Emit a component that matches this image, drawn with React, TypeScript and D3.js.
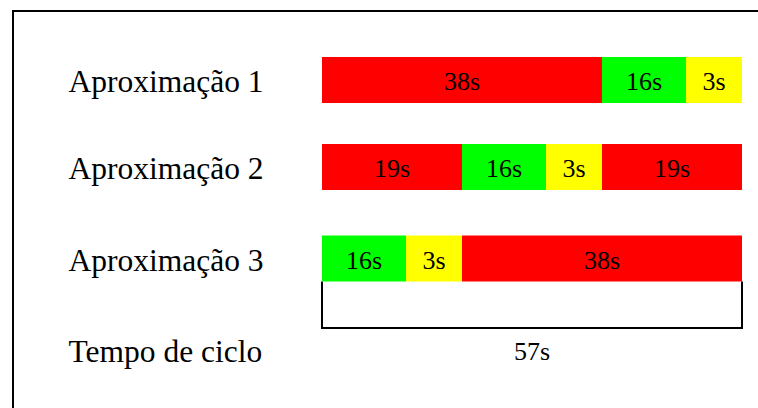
import React from "react";
import * as d3 from "d3";

// ---- data ----
const rowLabels = ["Aproximação 1", "Aproximação 2", "Aproximação 3", "Tempo de ciclo"];

const approach1Phases = ["red", "green", "yellow"];
const approach1Seconds = [38, 16, 3];
const approach1Units = [10, 3, 2];

const approach2Phases = ["red", "green", "yellow", "red"];
const approach2Seconds = [19, 16, 3, 19];
const approach2Units = [5, 3, 2, 5];

const approach3Phases = ["green", "yellow", "red"];
const approach3Seconds = [16, 3, 38];
const approach3Units = [3, 2, 10];

const cycleSeconds = 57;
const cycleUnits = 15;

const phaseColors: Record<string, string> = {
  red: "#ff0000",
  green: "#00ff00",
  yellow: "#ffff00",
};

const approaches = [
  { phases: approach1Phases, seconds: approach1Seconds, units: approach1Units },
  { phases: approach2Phases, seconds: approach2Seconds, units: approach2Units },
  { phases: approach3Phases, seconds: approach3Seconds, units: approach3Units },
];

const W = 758;
const H = 408;
const FONT = "'Liberation Serif', 'Times New Roman', serif";

export default function App() {
  const x = d3.scaleLinear().domain([0, cycleUnits]).range([322, 742]);
  const y = d3.scaleOrdinal<string, number>().domain(rowLabels).range([80, 167, 258.5, 350]);
  const barH = 46;

  return (
    <svg
      width={W}
      height={H}
      style={{ position: "absolute", left: 0, top: 0, background: "#fff" }}
    >
      <rect x={0} y={0} width={W} height={H} fill="#fff" />
      {/* frame */}
      <line x1={13} y1={10} x2={13} y2={H} stroke="#000" strokeWidth={2} />
      <line x1={12} y1={11} x2={W} y2={11} stroke="#000" strokeWidth={2} />

      {/* labels */}
      {rowLabels.map((l) => (
        <text
          key={l}
          x={68.5}
          y={y(l) + 12}
          fontFamily={FONT}
          fontSize={31.5}
          fill="#000"
        >
          {l}
        </text>
      ))}

      {/* cycle box */}
      {(() => {
        const top = y(rowLabels[2]) + barH / 2;
        const bottom = 328;
        return (
          <path
            d={`M${x(0)},${top} V${bottom} H${x(cycleUnits)} V${top}`}
            fill="none"
            stroke="#000"
            strokeWidth={2}
          />
        );
      })()}

      {/* bars */}
      {approaches.map((a, i) => {
        const cy = y(rowLabels[i]);
        const starts = d3.cumsum([0, ...a.units]);
        return (
          <g key={i}>
            {a.units.map((u, j) => {
              const x0 = x(starts[j]);
              const x1 = x(starts[j] + u);
              return (
                <g key={j}>
                  <rect
                    x={x0}
                    y={cy - barH / 2}
                    width={x1 - x0}
                    height={barH}
                    fill={phaseColors[a.phases[j]]}
                  />
                  <text
                    x={(x0 + x1) / 2}
                    y={cy + 10}
                    textAnchor="middle"
                    fontFamily={FONT}
                    fontSize={26}
                    fill="#000"
                  >
                    {a.seconds[j]}s
                  </text>
                </g>
              );
            })}
          </g>
        );
      })}

      {/* cycle time label */}
      <text
        x={(x(0) + x(cycleUnits)) / 2}
        y={360}
        textAnchor="middle"
        fontFamily={FONT}
        fontSize={26}
        fill="#000"
      >
        {cycleSeconds}s
      </text>
    </svg>
  );
}
